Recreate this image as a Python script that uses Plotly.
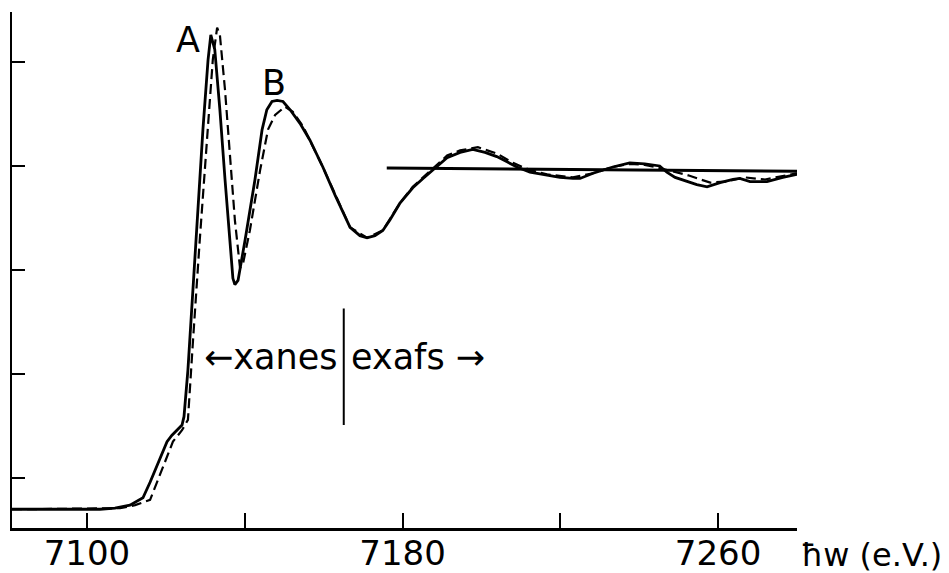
import plotly.graph_objects as go

# Photon energy (eV) and absorption (arbitrary units)
energy_solid = [7081.0, 7093.2, 7103.3, 7107.1, 7110.9, 7114.2, 7116.0, 7120.3, 7121.5, 7124.1,
                7124.6, 7125.6, 7127.4, 7129.4, 7130.7, 7131.4, 7132.4, 7133.7, 7135.0, 7136.3,
                7137.0, 7137.5, 7138.3, 7140.1, 7142.6, 7144.4, 7145.6, 7146.9, 7148.2, 7149.7,
                7151.5, 7154.0, 7156.5, 7159.8, 7162.9, 7166.7, 7169.2, 7171.0, 7173.0, 7175.0,
                7176.8, 7179.3, 7182.6, 7185.2, 7187.7, 7191.3, 7194.6, 7197.8, 7200.9, 7203.9,
                7206.5, 7209.0, 7212.3, 7216.6, 7219.9, 7223.2, 7225.0, 7228.3, 7231.3, 7233.3,
                7237.6, 7241.4, 7245.2, 7247.0, 7249.1, 7252.1, 7254.6, 7257.2, 7260.5, 7263.8,
                7265.5, 7268.1, 7272.4, 7276.4, 7280.0]
absorb_solid = [0.70, 0.70, 0.70, 0.71, 0.74, 0.81, 0.96, 1.35, 1.41, 1.51,
                1.59, 2.04, 3.19, 4.35, 5.02, 5.26, 5.12, 4.54, 3.87, 3.24,
                2.92, 2.86, 2.90, 3.29, 3.87, 4.35, 4.54, 4.62, 4.63, 4.62,
                4.54, 4.41, 4.25, 3.99, 3.72, 3.41, 3.33, 3.31, 3.33, 3.38,
                3.48, 3.64, 3.79, 3.88, 3.96, 4.08, 4.13, 4.16, 4.13, 4.09,
                4.04, 3.99, 3.94, 3.91, 3.89, 3.88, 3.88, 3.93, 3.97, 3.99,
                4.03, 4.02, 4.00, 3.94, 3.89, 3.85, 3.82, 3.80, 3.84, 3.87,
                3.88, 3.85, 3.85, 3.89, 3.92]

energy_dashed = [7081.0, 7108.4, 7112.2, 7116.0, 7121.8, 7124.1, 7125.6, 7126.1, 7126.9, 7128.6,
                 7130.4, 7131.9, 7133.0, 7133.7, 7135.0, 7136.3, 7137.5, 7138.8, 7139.5, 7141.3,
                 7143.9, 7145.9, 7147.7, 7150.2, 7152.2, 7154.8, 7159.8, 7166.7, 7171.0, 7175.0,
                 7179.3, 7182.6, 7187.7, 7191.3, 7194.6, 7199.1, 7203.9, 7208.0, 7212.3, 7216.6,
                 7223.2, 7228.3, 7233.3, 7237.6, 7241.4, 7245.2, 7252.4, 7258.0, 7261.8, 7266.8,
                 7271.9, 7276.4, 7280.0]
absorb_dashed = [0.70, 0.71, 0.74, 0.79, 1.35, 1.46, 1.56, 1.82, 2.33, 3.29,
                 4.25, 5.02, 5.33, 5.26, 4.73, 4.06, 3.48, 3.02, 3.05, 3.38,
                 3.96, 4.35, 4.49, 4.57, 4.52, 4.38, 3.99, 3.41, 3.31, 3.38,
                 3.64, 3.80, 3.98, 4.10, 4.15, 4.18, 4.12, 4.03, 3.96, 3.92,
                 3.89, 3.93, 3.99, 4.02, 4.01, 3.98, 3.91, 3.84, 3.85, 3.89,
                 3.87, 3.90, 3.93]

ref_energy = [7176.0, 7280.0]
ref_absorb = [3.98, 3.95]

divider_energy = 7165.1
divider_span = [1.51, 2.63]

x_tickvals = [7100, 7140, 7180, 7220, 7260]
x_ticktext = ["7100", "", "7180", "", "7260"]
y_tickvals = [1, 2, 3, 4, 5]

FONT = "DejaVu Sans"

fig = go.Figure()
fig.add_trace(go.Scatter(x=energy_dashed, y=absorb_dashed, mode="lines",
                         line=dict(color="black", width=2.2, dash="10px,5px"),
                         showlegend=False, hoverinfo="skip"))
fig.add_trace(go.Scatter(x=energy_solid, y=absorb_solid, mode="lines",
                         line=dict(color="black", width=2.8),
                         showlegend=False, hoverinfo="skip"))
fig.add_trace(go.Scatter(x=ref_energy, y=ref_absorb, mode="lines",
                         line=dict(color="black", width=3),
                         showlegend=False, hoverinfo="skip"))

fig.add_shape(type="line", xref="x", yref="y",
              x0=divider_energy, x1=divider_energy, y0=divider_span[0], y1=divider_span[1],
              line=dict(color="black", width=2))

fig.add_annotation(x=7125.5, y=5.21, xref="x", yref="y", text="A", showarrow=False,
                   font=dict(family=FONT, size=35, color="black"))
fig.add_annotation(x=7147.4, y=4.80, xref="x", yref="y", text="B", showarrow=False,
                   font=dict(family=FONT, size=35, color="black"))
fig.add_annotation(x=7163.9, y=2.16, xref="x", yref="y", text="←xanes", showarrow=False,
                   xanchor="right", font=dict(family=FONT, size=35, color="black"))
fig.add_annotation(x=7166.4, y=2.16, xref="x", yref="y", text="exafs →", showarrow=False,
                   xanchor="left", font=dict(family=FONT, size=35, color="black"))
fig.add_annotation(x=1.003, y=-0.052, xref="paper", yref="paper", text="ħw (e.V.)",
                   showarrow=False, xanchor="left", yanchor="middle",
                   font=dict(family=FONT, size=32, color="black"))

fig.update_xaxes(range=[7081, 7280], showgrid=False, zeroline=False, automargin=False,
                 showline=True, linecolor="black", linewidth=3,
                 ticks="inside", ticklen=15, tickwidth=1.5, tickcolor="black",
                 tickvals=x_tickvals, ticktext=x_ticktext, ticklabelstandoff=-7,
                 tickfont=dict(family=FONT, size=34, color="black"))
fig.update_yaxes(range=[0.52, 5.48], showgrid=False, zeroline=False, automargin=False,
                 showline=True, linecolor="black", linewidth=2,
                 ticks="inside", ticklen=13, tickwidth=2, tickcolor="black",
                 tickvals=y_tickvals, showticklabels=False)

# page body has an 8px margin: the figure is offset by 8px and sized to reach the window edges
fig.update_layout(width=941, height=565, margin=dict(l=4, r=152, t=4, b=45, autoexpand=False),
                  plot_bgcolor="white", paper_bgcolor="white")

fig.write_html("out.html")
